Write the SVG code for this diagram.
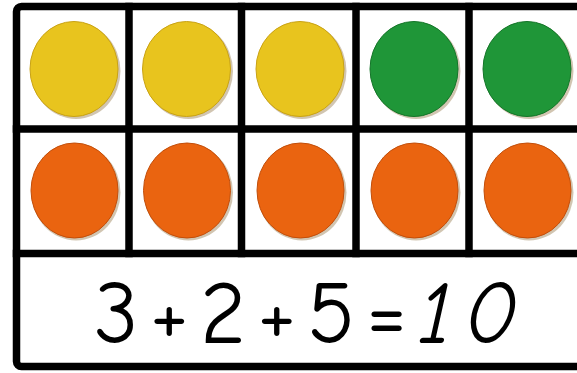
<svg xmlns="http://www.w3.org/2000/svg" width="577" height="373" viewBox="0 0 577 373">
<style>
.grid{fill:none;stroke:#000;stroke-width:7.5;stroke-linecap:square}
.sh{fill:#7a5a20;opacity:0.35}
.y{fill:#E8C41E;stroke:#C9A214;stroke-width:1}
.g{fill:#1F9638;stroke:#147528;stroke-width:1}
.o{fill:#EA6410;stroke:#C24E0A;stroke-width:1}
.eq{font-family:"Comic Neue","Liberation Sans",sans-serif;font-size:88px;fill:#000}
</style>
<rect width="577" height="373" fill="#fff"/>
<g id="frame">
<rect class="grid" x="16.5" y="6.5" width="600" height="360" rx="5"/>
<line class="grid" x1="16.5" y1="129" x2="577" y2="129"/>
<line class="grid" x1="16.5" y1="253.5" x2="577" y2="253.5"/>
<line class="grid" x1="129" y1="6.5" x2="129" y2="253.5"/>
<line class="grid" x1="241.5" y1="6.5" x2="241.5" y2="253.5"/>
<line class="grid" x1="356" y1="6.5" x2="356" y2="253.5"/>
<line class="grid" x1="469" y1="6.5" x2="469" y2="253.5"/>
</g>
<g id="counter-r1c1"><ellipse class="sh" cx="76" cy="71" rx="44.5" ry="48"/><ellipse class="y" cx="74" cy="69" rx="44" ry="47.5"/></g>
<g id="counter-r1c2"><ellipse class="sh" cx="188.5" cy="71" rx="44.5" ry="48"/><ellipse class="y" cx="186.5" cy="69" rx="44" ry="47.5"/></g>
<g id="counter-r1c3"><ellipse class="sh" cx="302" cy="71" rx="44.5" ry="48"/><ellipse class="y" cx="300" cy="69" rx="44" ry="47.5"/></g>
<g id="counter-r1c4"><ellipse class="sh" cx="416" cy="71" rx="44.5" ry="48"/><ellipse class="g" cx="414" cy="69" rx="44" ry="47.5"/></g>
<g id="counter-r1c5"><ellipse class="sh" cx="529" cy="71" rx="44.5" ry="48"/><ellipse class="g" cx="527" cy="69" rx="44" ry="47.5"/></g>
<g id="counter-r2c1"><ellipse class="sh" cx="76" cy="192.5" rx="44.5" ry="48"/><ellipse class="o" cx="74.5" cy="190.5" rx="43.5" ry="47.5"/></g>
<g id="counter-r2c2"><ellipse class="sh" cx="188.5" cy="192.5" rx="44.5" ry="48"/><ellipse class="o" cx="187" cy="190.5" rx="43.5" ry="47.5"/></g>
<g id="counter-r2c3"><ellipse class="sh" cx="302" cy="192.5" rx="44.5" ry="48"/><ellipse class="o" cx="300.5" cy="190.5" rx="43.5" ry="47.5"/></g>
<g id="counter-r2c4"><ellipse class="sh" cx="416" cy="192.5" rx="44.5" ry="48"/><ellipse class="o" cx="414.5" cy="190.5" rx="43.5" ry="47.5"/></g>
<g id="counter-r2c5"><ellipse class="sh" cx="529" cy="192.5" rx="44.5" ry="48"/><ellipse class="o" cx="527.5" cy="190.5" rx="43.5" ry="47.5"/></g>
<g id="equation">
<text class="eq" x="94" y="343" textLength="424" lengthAdjust="spacing">3+2+5=<tspan font-style="italic">10</tspan></text>
</g>
</svg>
